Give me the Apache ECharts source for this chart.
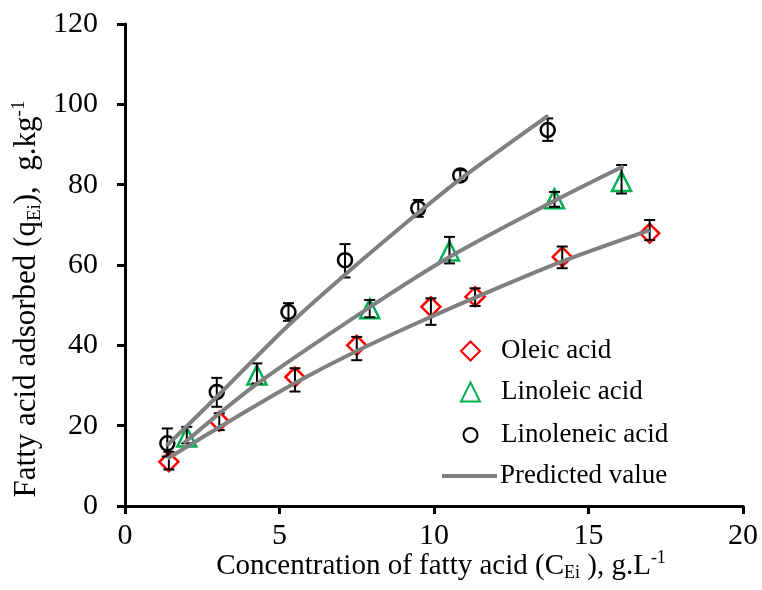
<!DOCTYPE html>
<html>
<head>
<meta charset="utf-8">
<script src="https://cdn.jsdelivr.net/npm/echarts@6/dist/echarts.min.js"></script>
<style>html,body{margin:0;padding:0;background:#fff;}#c{width:762px;height:590px;}</style>
</head>
<body>
<div id="c"></div>
<script>
// ---- data ----
const xTicks = [0, 5, 10, 15, 20];
const yTicks = [0, 20, 40, 60, 80, 100, 120];

const oleicX   = [1.42, 3.05, 5.5, 7.5, 9.9, 11.33, 14.15, 16.98];
const oleicY   = [11.0, 21.1, 32.1, 40.0, 49.6, 52.1, 62.0, 67.9];
const oleicLo  = [9.1, 18.9, 28.5, 36.3, 45.1, 49.8, 59.2, 66.2];
const oleicHi  = [13.5, 23.1, 34.3, 42.1, 51.7, 54.2, 64.6, 71.2];
const oleicPredX = [1.38, 3.05, 5.5, 7.5, 9.9, 11.33, 14.15, 16.98];
const oleicPredY = [11.8, 19.6, 30.6, 38.6, 47.1, 51.9, 60.9, 68.7];

const linoleicX  = [2.0, 4.27, 7.92, 10.5, 13.9, 16.07];
const linoleicY  = [17.2, 32.6, 49.1, 63.5, 76.5, 80.8];
const linoleicLo = [15.6, 30.5, 47.0, 60.4, 74.5, 77.8];
const linoleicHi = [19.7, 35.5, 51.3, 67.0, 78.2, 84.9];
const linoleicPredX = [1.9, 4.27, 7.92, 10.5, 13.9, 16.13];
const linoleicPredY = [15.6, 30.4, 49.5, 62.0, 76.0, 84.6];

const linolenX  = [1.37, 2.97, 5.29, 7.12, 9.49, 10.85, 13.68];
const linolenY  = [15.6, 28.4, 48.3, 61.2, 74.1, 82.3, 93.6];
const linolenLo = [12.3, 24.7, 46.1, 56.9, 72.0, 81.0, 90.9];
const linolenHi = [19.3, 31.9, 50.5, 65.2, 76.2, 83.6, 96.5];
const linolenPredX = [1.35, 2.97, 5.29, 7.12, 9.49, 10.85, 13.7];
const linolenPredY = [15.0, 27.2, 45.0, 57.6, 73.0, 81.4, 97.2];

const legendNames = ['Oleic acid', 'Linoleic acid', 'Linoleneic acid', 'Predicted value'];

// ---- helpers ----
const FONT = '"Liberation Serif", "Times New Roman", serif';
function pairs(xs, ys) { return xs.map((x, i) => [x, ys[i]]); }
function triples(xs, lo, hi) { return xs.map((x, i) => [x, lo[i], hi[i]]); }

function errRender(params, api) {
  const x = api.value(0), lo = api.value(1), hi = api.value(2);
  const pH = api.coord([x, hi]);
  const pL = api.coord([x, lo]);
  const cap = 5.5;
  const st = { stroke: '#000', lineWidth: 2 };
  return {
    type: 'group',
    children: [
      { type: 'line', shape: { x1: pH[0], y1: pH[1], x2: pL[0], y2: pL[1] }, style: st },
      { type: 'line', shape: { x1: pH[0] - cap, y1: pH[1], x2: pH[0] + cap, y2: pH[1] }, style: st },
      { type: 'line', shape: { x1: pL[0] - cap, y1: pL[1], x2: pL[0] + cap, y2: pL[1] }, style: st }
    ]
  };
}
function errSeries(data) {
  return { type: 'custom', renderItem: errRender, data: data, encode: { x: 0, y: [1, 2] }, z: 3, silent: true };
}
function scatter(name, data, symbol, size, color) {
  return {
    name: name, type: 'scatter', data: data, symbol: symbol, symbolSize: size, z: 2,
    itemStyle: { color: '#fff', borderColor: color, borderWidth: 2.5, opacity: 1 }
  };
}
function pred(data) {
  return {
    name: 'Predicted value', type: 'line', data: data, showSymbol: false, symbol: 'none',
    smooth: 0.3, z: 4, lineStyle: { color: '#808080', width: 4 }, itemStyle: { color: '#808080' }
  };
}
// one legend per entry so each icon keeps its own size; icons centred at x≈469.5, text at x≈500
function legendItem(name, top, iconW, iconH, icon) {
  const left = 469.5 - iconW / 2;
  const textShift = 500 - (left + iconW + 5);
  const l = {
    data: [name], orient: 'vertical', left: left, top: top,
    itemWidth: iconW, itemHeight: iconH,
    textStyle: { color: '#000', fontSize: 27, fontFamily: FONT, lineHeight: 28, padding: [0, 0, 0, textShift] },
    selectedMode: false, padding: 0
  };
  if (icon) l.icon = icon;
  return l;
}

const chart = echarts.init(document.getElementById('c'), null, { renderer: 'canvas' });
chart.setOption({
  animation: false,
  backgroundColor: '#fff',
  textStyle: { fontFamily: FONT },
  grid: { left: 125, right: 19, top: 24, bottom: 84, containLabel: false },
  xAxis: {
    type: 'value', min: xTicks[0], max: xTicks[xTicks.length - 1], interval: xTicks[1] - xTicks[0],
    axisLine: { show: true, onZero: false, lineStyle: { color: '#000', width: 3 } },
    axisTick: { show: true, inside: false, length: 8, lineStyle: { color: '#000', width: 3 } },
    axisLabel: { color: '#000', fontSize: 30, fontFamily: FONT, margin: 15 },
    splitLine: { show: false }
  },
  yAxis: {
    type: 'value', min: yTicks[0], max: yTicks[yTicks.length - 1], interval: yTicks[1] - yTicks[0],
    axisLine: { show: true, onZero: false, lineStyle: { color: '#000', width: 3 } },
    axisTick: { show: true, inside: false, length: 8, lineStyle: { color: '#000', width: 3 } },
    axisLabel: { color: '#000', fontSize: 30, fontFamily: FONT, margin: 27 },
    splitLine: { show: false }
  },
  legend: [
    legendItem(legendNames[0], 337, 19, 19, 'diamond'),
    legendItem(legendNames[1], 378, 19, 19, 'triangle'),
    legendItem(legendNames[2], 421, 14, 14, 'circle'),
    legendItem(legendNames[3], 462, 55, 4, 'rect')
  ],
  graphic: [
    {
      type: 'text', x: 27, y: 299, rotation: Math.PI / 2,
      style: {
        text: 'Fatty acid adsorbed (q{sub|Ei}),  g.kg{sup|-1}',
        fontSize: 31, fontFamily: FONT, fill: '#000', align: 'center', verticalAlign: 'middle',
        rich: {
          sub: { fontSize: 19, fontFamily: FONT, fill: '#000', padding: [16, 0, 0, 0] },
          sup: { fontSize: 19, fontFamily: FONT, fill: '#000', padding: [0, 0, 16, 0] }
        }
      }
    },
    {
      type: 'text', x: 441, y: 566,
      style: {
        text: 'Concentration of fatty acid (C{sub|Ei} ), g.L{sup|-1}',
        fontSize: 29, fontFamily: FONT, fill: '#000', align: 'center', verticalAlign: 'middle',
        rich: {
          sub: { fontSize: 18, fontFamily: FONT, fill: '#000', padding: [15, 0, 0, 0] },
          sup: { fontSize: 18, fontFamily: FONT, fill: '#000', padding: [0, 0, 15, 0] }
        }
      }
    }
  ],
  series: [
    scatter('Oleic acid', pairs(oleicX, oleicY), 'diamond', 19, '#ff0000'),
    scatter('Linoleic acid', pairs(linoleicX, linoleicY), 'triangle', 19, '#00b050'),
    scatter('Linoleneic acid', pairs(linolenX, linolenY), 'circle', 14, '#000000'),
    errSeries(triples(oleicX, oleicLo, oleicHi)),
    errSeries(triples(linoleicX, linoleicLo, linoleicHi)),
    errSeries(triples(linolenX, linolenLo, linolenHi)),
    pred(pairs(oleicPredX, oleicPredY)),
    pred(pairs(linoleicPredX, linoleicPredY)),
    pred(pairs(linolenPredX, linolenPredY))
  ]
});
</script>
</body>
</html>
